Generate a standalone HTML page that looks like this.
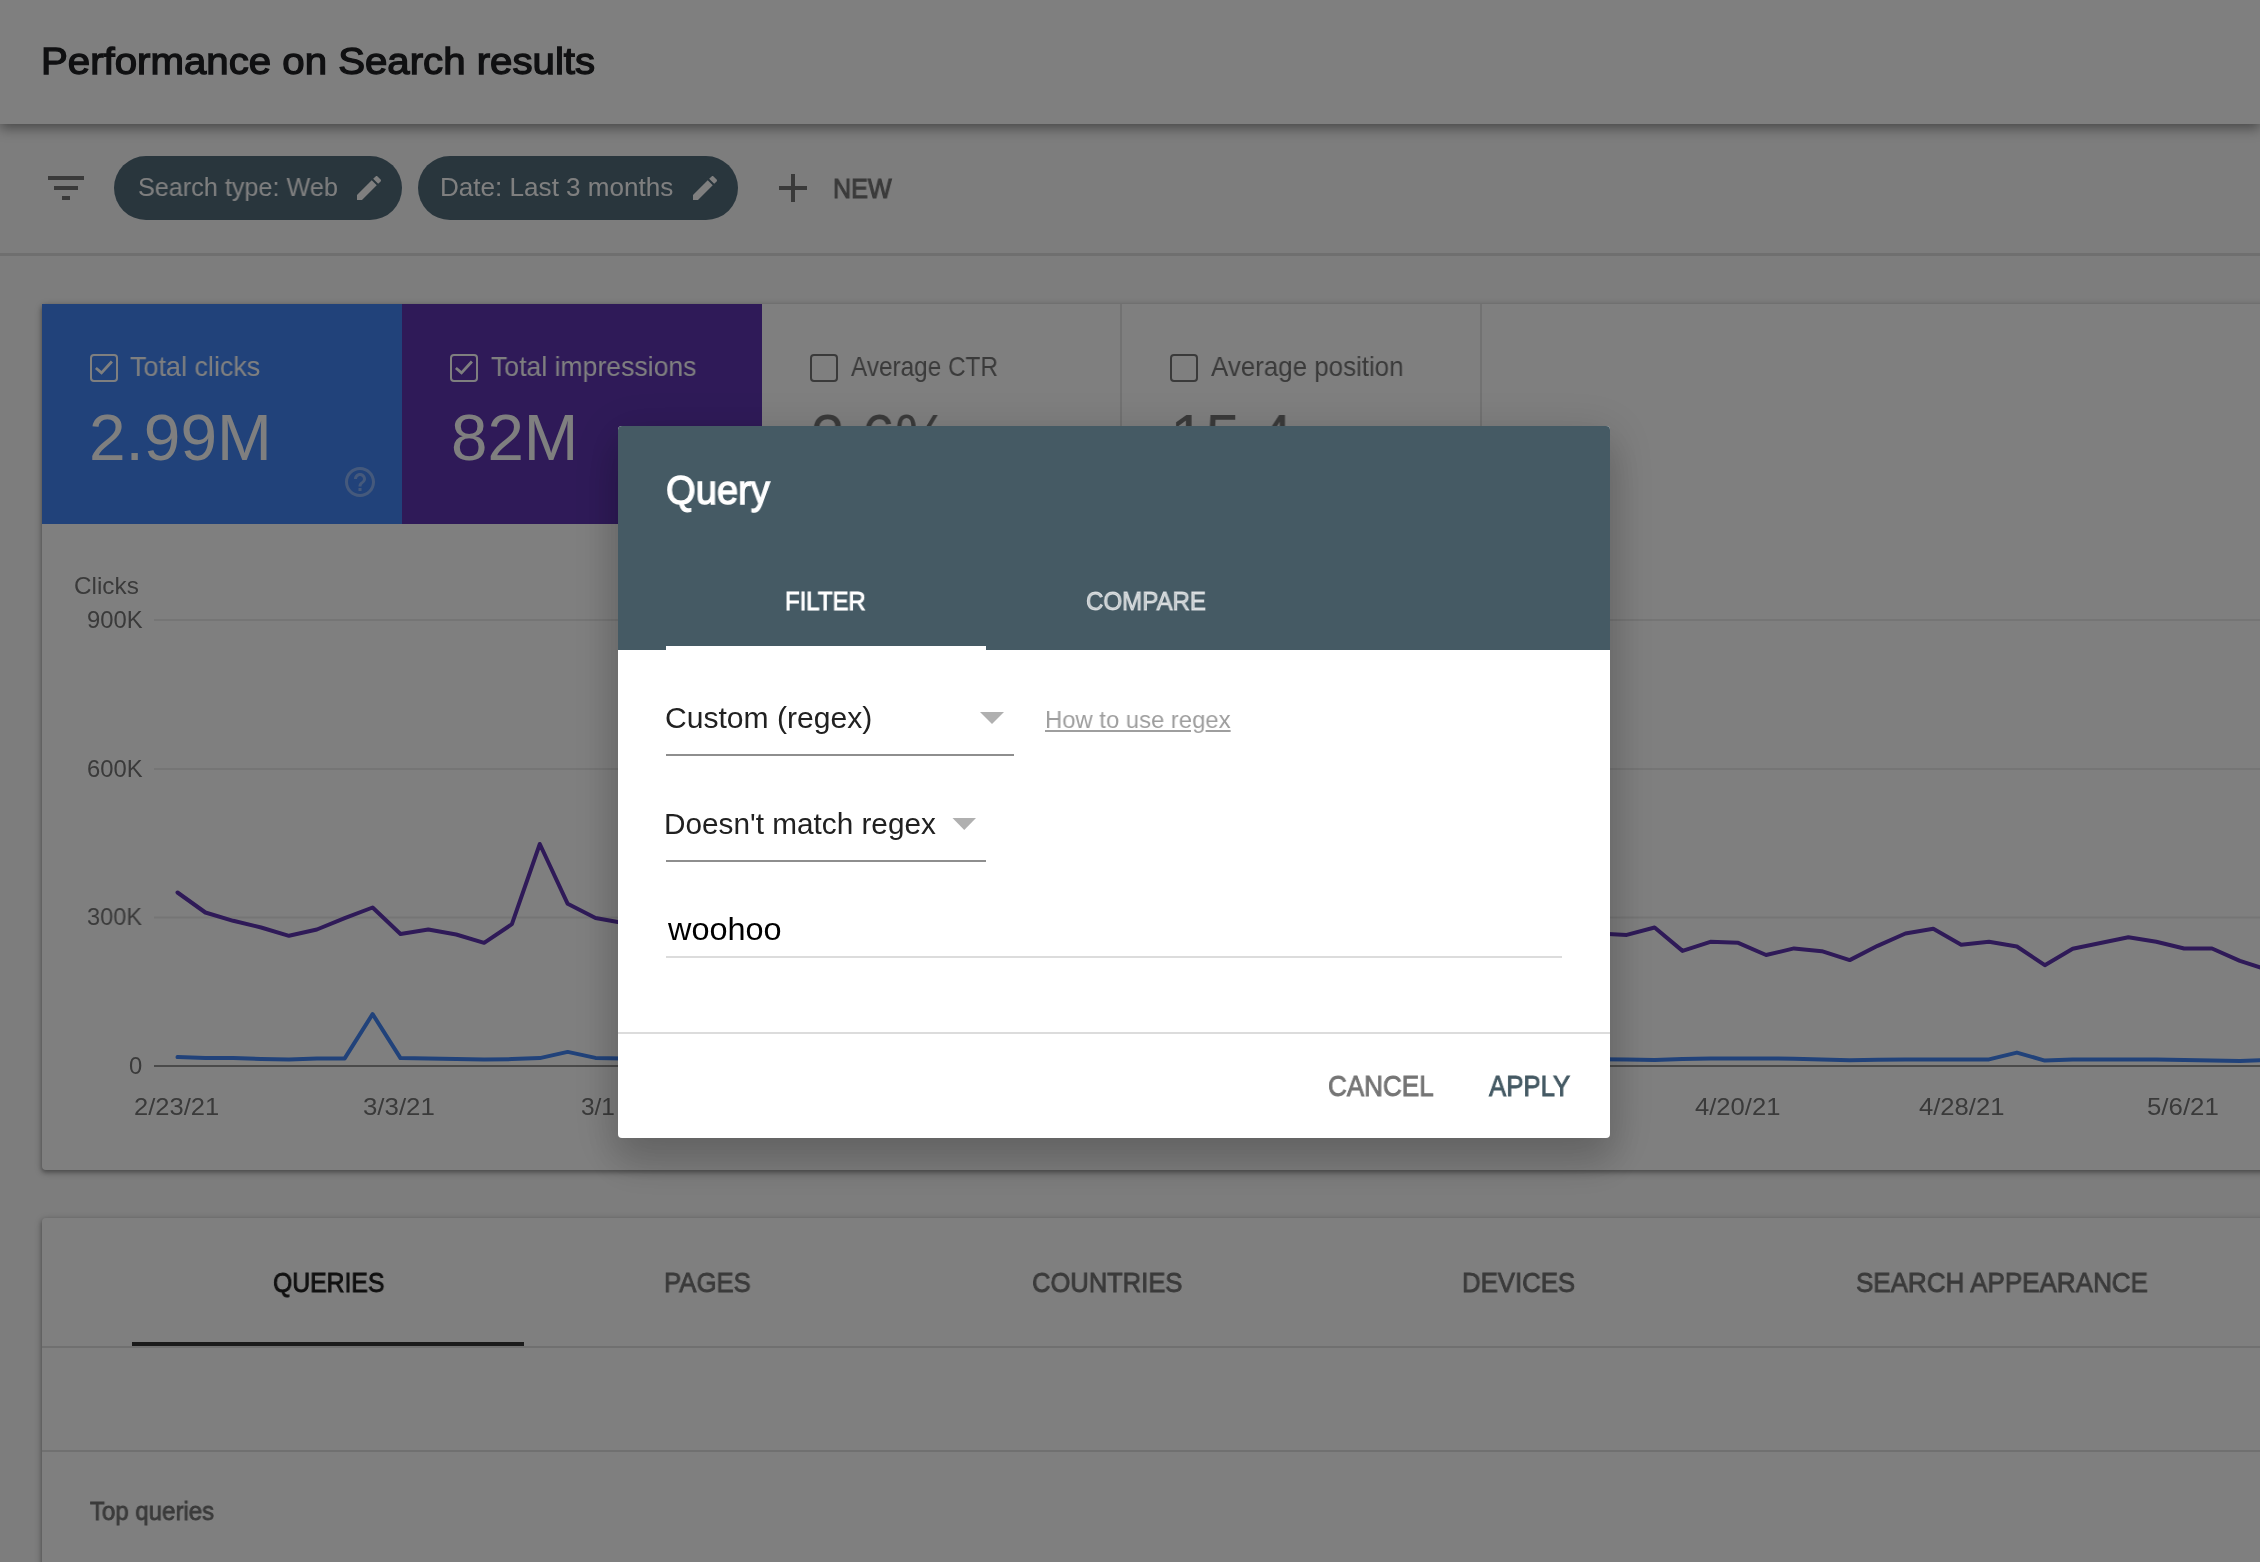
<!DOCTYPE html>
<html lang="en">
<head>
<meta charset="utf-8">
<title>Performance on Search results</title>
<style>
*{box-sizing:border-box;margin:0;padding:0}
html,body{width:2260px;height:1562px;overflow:hidden;background:#fafafa;font-family:"Liberation Sans",sans-serif}
#app{position:absolute;left:0;top:0;width:2260px;height:1562px;overflow:hidden;background:#fafafa}
.t{position:absolute;white-space:nowrap;line-height:1;transform-origin:0 0;font-weight:400;will-change:transform}
.abs{position:absolute}
header{position:absolute;left:0;top:0;width:2260px;height:124px;background:#fff;z-index:3;
  box-shadow:0 4px 12px rgba(0,0,0,.43)}
.filterbar{position:absolute;left:0;top:124px;width:2260px;height:132px;background:#fafafa;border-bottom:3px solid #dedede}
.chip{position:absolute;top:156px;height:64px;border-radius:32px;background:#526c7b}
.card{position:absolute;background:#fff;border-radius:4px;box-shadow:0 2px 4px 0 rgba(0,0,0,.3),0 2px 6px 2px rgba(0,0,0,.15)}
.metric{position:absolute;top:0;height:220px}
.cb{position:absolute;width:28px;height:28px;border:2px solid #fff;border-radius:4px}
.cb.off{border-color:#757575}
.vline{position:absolute;top:0;width:2px;height:220px;background:#e4e4e4}
.hline{position:absolute;left:0;height:2px;background:#e0e0e0}
.scrim{position:absolute;left:0;top:0;width:2260px;height:1562px;background:rgba(0,0,0,.5);z-index:10}
.dialog{position:absolute;left:618px;top:426px;width:992px;height:712px;background:#fff;border-radius:4px;z-index:20;overflow:hidden;
  box-shadow:0 24px 38px 3px rgba(0,0,0,.14),0 9px 46px 8px rgba(0,0,0,.12)}
.dlg-head{position:absolute;left:0;top:0;width:992px;height:224px;background:#455a64}
.ind{position:absolute;left:48px;top:220px;width:320px;height:4px;background:#fff}
.uline{position:absolute;height:2px;background:#8e8e8e}
#dlgtext{position:absolute;left:0;top:0;width:2260px;height:1562px;z-index:21;pointer-events:none}
</style>
</head>
<body>
<div id="app">
  <header>
    <span class="t" style="left:41.3px;top:42.8px;font-size:37.5px;color:#202124;transform:scaleX(1.072);-webkit-text-stroke:1.3px #202124;">Performance on Search results</span>
  </header>
  <div class="filterbar"></div>
  <svg class="abs" style="left:42px;top:164px" width="48" height="48" viewBox="0 0 24 24"><path fill="#757575" d="M10 18h4v-2h-4v2zM3 6v2h18V6H3zm3 7h12v-2H6v2z"/></svg>
  <div class="chip" style="left:114px;width:288px"></div>
  <span class="t" style="left:137.7px;top:174.8px;font-size:25.6px;color:#fff;transform:scaleX(0.985);">Search type: Web</span>
  <svg class="abs" style="left:352.6px;top:172px" width="32" height="32" viewBox="0 0 24 24"><path fill="#fff" d="M3 17.25V21h3.75L17.81 9.94l-3.75-3.75L3 17.25zM20.71 7.04c.39-.39.39-1.02 0-1.41l-2.34-2.34c-.39-.39-1.02-.39-1.41 0l-1.83 1.83 3.75 3.75 1.83-1.83z"/></svg>
  <div class="chip" style="left:418px;width:320px"></div>
  <span class="t" style="left:440.1px;top:174.8px;font-size:25.6px;color:#fff;transform:scaleX(1.019);">Date: Last 3 months</span>
  <svg class="abs" style="left:688.7px;top:172px" width="32" height="32" viewBox="0 0 24 24"><path fill="#fff" d="M3 17.25V21h3.75L17.81 9.94l-3.75-3.75L3 17.25zM20.71 7.04c.39-.39.39-1.02 0-1.41l-2.34-2.34c-.39-.39-1.02-.39-1.41 0l-1.83 1.83 3.75 3.75 1.83-1.83z"/></svg>
  <svg class="abs" style="left:769px;top:164px" width="48" height="48" viewBox="0 0 24 24"><path fill="#757575" d="M19 13h-6v6h-2v-6H5v-2h6V5h2v6h6v2z"/></svg>
  <span class="t" style="left:833px;top:174.5px;font-size:27.7px;color:#757575;transform:scaleX(0.907);-webkit-text-stroke:1.1px #757575;">NEW</span>

  <!-- chart card -->
  <div class="card" style="left:42px;top:304px;width:2300px;height:866px">
    <div class="metric" style="left:0;width:360px;background:#4285f4"></div>
    <div class="metric" style="left:360px;width:360px;background:#5e35b1"></div>
    <div class="vline" style="left:1078px"></div>
    <div class="vline" style="left:1438px"></div>
    <svg class="abs" style="left:0;top:0" width="2218" height="866" viewBox="0 0 2218 866">
      <g stroke="#ebebeb" stroke-width="2">
        <line x1="112" x2="2218" y1="316" y2="316"/>
        <line x1="112" x2="2218" y1="465" y2="465"/>
        <line x1="112" x2="2218" y1="613.5" y2="613.5"/>
      </g>
      <line x1="112" x2="2218" y1="762" y2="762" stroke="#949494" stroke-width="2"/>
      <path d="M135.5,588.5 L163.4,608.5 L191.2,616.8 L219.1,623.5 L247.0,631.8 L274.9,625.5 L302.7,614.2 L330.6,603.5 L358.5,630.0 L386.3,625.5 L414.2,630.5 L442.1,638.8 L469.9,620.2 L497.8,540.0 L525.7,599.8 L553.5,614.0 L581.4,619.0 L609.3,621.0 L637.2,627.0 L665.0,618.0 L692.9,636.0 L720.8,631.0 L748.6,624.0 L776.5,640.0 L804.4,646.0 L832.2,634.0 L860.1,626.0 L888.0,622.0 L915.9,630.0 L943.7,641.0 L971.6,648.0 L999.5,636.0 L1027.3,632.0 L1055.2,626.0 L1083.1,621.0 L1111.0,634.0 L1138.8,643.0 L1166.7,637.0 L1194.6,631.0 L1222.4,625.0 L1250.3,629.0 L1278.2,636.0 L1306.0,644.0 L1333.9,639.0 L1361.8,633.0 L1389.7,627.0 L1417.5,624.0 L1445.4,631.0 L1473.3,638.0 L1501.1,634.0 L1529.0,630.0 L1556.9,629.5 L1584.7,630.9 L1612.6,623.5 L1640.5,646.9 L1668.4,637.8 L1696.2,638.8 L1724.1,651.0 L1752.0,644.4 L1779.8,647.2 L1807.7,656.1 L1835.6,641.8 L1863.4,629.5 L1891.3,624.8 L1919.2,640.8 L1947.0,637.8 L1974.9,642.5 L2002.8,661.2 L2030.7,644.8 L2058.5,639.0 L2086.4,633.2 L2114.3,637.8 L2142.1,644.5 L2170.0,644.5 L2197.9,656.8 L2225.8,665.8" fill="none" stroke="#5e35b1" stroke-width="4" stroke-linejoin="round" stroke-linecap="round"/>
      <path d="M135.5,753.1 L163.4,753.9 L191.2,754.1 L219.1,754.9 L247.0,755.4 L274.9,754.4 L302.7,754.4 L330.6,710.1 L358.5,754.1 L386.3,754.4 L414.2,755.1 L442.1,755.6 L469.9,755.1 L497.8,754.1 L525.7,747.9 L553.5,753.9 L581.4,754.4 L609.3,754.6 L637.2,755.5 L665.0,754.6 L692.9,754.6 L720.8,755.5 L748.6,754.6 L776.5,754.6 L804.4,755.5 L832.2,754.6 L860.1,754.6 L888.0,755.5 L915.9,754.6 L943.7,754.6 L971.6,755.5 L999.5,754.6 L1027.3,754.6 L1055.2,755.5 L1083.1,754.6 L1111.0,754.6 L1138.8,755.5 L1166.7,754.6 L1194.6,754.6 L1222.4,755.5 L1250.3,754.6 L1278.2,754.6 L1306.0,755.5 L1333.9,754.6 L1361.8,754.6 L1389.7,755.5 L1417.5,754.6 L1445.4,754.6 L1473.3,755.5 L1501.1,754.6 L1529.0,754.6 L1556.9,755.2 L1584.7,755.4 L1612.6,756.0 L1640.5,754.9 L1668.4,754.4 L1696.2,754.4 L1724.1,754.4 L1752.0,754.8 L1779.8,755.4 L1807.7,756.2 L1835.6,755.8 L1863.4,755.4 L1891.3,755.4 L1919.2,755.4 L1947.0,755.4 L1974.9,748.6 L2002.8,756.6 L2030.7,755.4 L2058.5,755.4 L2086.4,755.4 L2114.3,755.4 L2142.1,755.9 L2170.0,756.4 L2197.9,756.9 L2225.8,755.9" fill="none" stroke="#4285f4" stroke-width="4" stroke-linejoin="round" stroke-linecap="round"/>
    </svg>
  </div>
  <!-- metric contents (page coords) -->
  <div class="cb" style="left:90px;top:354px"><svg width="24" height="24" viewBox="0 0 24 24" style="position:absolute;left:0;top:0"><path d="M3.9 12 L9.5 16.9 L19.9 5.5" fill="none" stroke="#fff" stroke-width="2.8"/></svg></div>
  <span class="t" style="left:129.9px;top:353.4px;font-size:27.6px;color:#fff;transform:scaleX(0.977);">Total clicks</span>
  <span class="t" style="left:88.5px;top:405.7px;font-size:64.1px;color:#fff;transform:scaleX(1.026);">2.99M</span>
  <svg class="abs" style="left:342px;top:464px;opacity:.38" width="36" height="36" viewBox="0 0 24 24"><path fill="#fff" d="M11 18h2v-2h-2v2zm1-16C6.48 2 2 6.48 2 12s4.48 10 10 10 10-4.48 10-10S17.52 2 12 2zm0 18c-4.41 0-8-3.59-8-8s3.59-8 8-8 8 3.59 8 8-3.59 8-8 8zm0-14c-2.21 0-4 1.79-4 4h2c0-1.1.9-2 2-2s2 .9 2 2c0 2-3 1.75-3 5h2c0-2.25 3-2.5 3-5 0-2.21-1.79-4-4-4z"/></svg>
  <div class="cb" style="left:450px;top:354px"><svg width="24" height="24" viewBox="0 0 24 24" style="position:absolute;left:0;top:0"><path d="M3.9 12 L9.5 16.9 L19.9 5.5" fill="none" stroke="#fff" stroke-width="2.8"/></svg></div>
  <span class="t" style="left:490.7px;top:353.4px;font-size:27.6px;color:#fff;transform:scaleX(0.964);">Total impressions</span>
  <span class="t" style="left:451.2px;top:405.7px;font-size:64.1px;color:#fff;transform:scaleX(1.021);">82M</span>
  <div class="cb off" style="left:810px;top:354px"></div>
  <span class="t" style="left:850.8px;top:353.4px;font-size:27.6px;color:#757575;transform:scaleX(0.882);">Average CTR</span>
  <span class="t" style="left:811px;top:405.7px;font-size:64.1px;color:#757575;transform:scaleX(0.943);">3.6%</span>
  <div class="cb off" style="left:1170px;top:354px"></div>
  <span class="t" style="left:1210.8px;top:353.4px;font-size:27.6px;color:#757575;transform:scaleX(0.939);">Average position</span>
  <span class="t" style="left:1169.5px;top:405.7px;font-size:64.1px;color:#757575;transform:scaleX(0.986);">15.4</span>

  <!-- chart labels -->
  <span class="t" style="left:73.6px;top:574.9px;font-size:23.6px;color:#757575;transform:scaleX(1.03);">Clicks</span>
  <span class="t" style="left:86.5px;top:608px;font-size:23.8px;color:#757575;transform:scaleX(0.996);">900K</span>
  <span class="t" style="left:86.5px;top:756.6px;font-size:23.8px;color:#757575;transform:scaleX(0.996);">600K</span>
  <span class="t" style="left:86.9px;top:905.2px;font-size:23.8px;color:#757575;transform:scaleX(0.989);">300K</span>
  <span class="t" style="left:128.5px;top:1053.9px;font-size:23.8px;color:#757575;">0</span>
  <span class="t" style="left:134.2px;top:1095.3px;font-size:23.9px;color:#757575;transform:scaleX(1.068);">2/23/21</span>
  <span class="t" style="left:363.2px;top:1095.3px;font-size:23.9px;color:#757575;transform:scaleX(1.081);">3/3/21</span>
  <span class="t" style="left:580.5px;top:1095.3px;font-size:23.9px;color:#757575;transform:scaleX(1.022);">3/1</span>
  <span class="t" style="left:1695.1px;top:1095.3px;font-size:23.9px;color:#757575;transform:scaleX(1.071);">4/20/21</span>
  <span class="t" style="left:1918.6px;top:1095.3px;font-size:23.9px;color:#757575;transform:scaleX(1.071);">4/28/21</span>
  <span class="t" style="left:2147.2px;top:1095.3px;font-size:23.9px;color:#757575;transform:scaleX(1.081);">5/6/21</span>

  <!-- table card -->
  <div class="card" style="left:42px;top:1218px;width:2300px;height:420px">
    <div class="hline" style="top:128px;width:2300px"></div>
    <div class="abs" style="left:90px;top:124px;width:392px;height:4px;background:#363636"></div>
    <div class="hline" style="top:232px;width:2300px"></div>
  </div>
  <span class="t" style="left:272.5px;top:1268.1px;font-size:28.3px;color:#212121;transform:scaleX(0.875);-webkit-text-stroke:0.9px #212121;">QUERIES</span>
  <span class="t" style="left:664.4px;top:1268.1px;font-size:28.3px;color:#757575;transform:scaleX(0.909);-webkit-text-stroke:0.9px #757575;">PAGES</span>
  <span class="t" style="left:1032.3px;top:1268.1px;font-size:28.3px;color:#757575;transform:scaleX(0.902);-webkit-text-stroke:0.9px #757575;">COUNTRIES</span>
  <span class="t" style="left:1462.4px;top:1268.1px;font-size:28.3px;color:#757575;transform:scaleX(0.911);-webkit-text-stroke:0.9px #757575;">DEVICES</span>
  <span class="t" style="left:1856.1px;top:1268.1px;font-size:28.3px;color:#757575;transform:scaleX(0.919);-webkit-text-stroke:0.9px #757575;">SEARCH APPEARANCE</span>
  <span class="t" style="left:90px;top:1499px;font-size:25.2px;color:#757575;transform:scaleX(0.954);-webkit-text-stroke:0.8px #757575;">Top queries</span>
</div>

<div class="scrim"></div>

<div class="dialog">
  <div class="dlg-head"></div>
  <div class="ind"></div>
  <div class="uline" style="left:48px;top:328px;width:348px"></div>
  <div class="uline" style="left:48px;top:434px;width:320px"></div>
  <div class="abs" style="left:48px;top:530px;width:896px;height:2px;background:#dcdcdc"></div>
  <div class="abs" style="left:0;top:606px;width:992px;height:2px;background:#dcdcdc"></div>
  <svg class="abs" style="left:0;top:0" width="992" height="712"><polygon points="362,286 386,286 374,298" fill="#b0b0b0"/><polygon points="334.5,392 358,392 346.25,404" fill="#b0b0b0"/></svg>
</div>
<div id="dlgtext">
  <span class="t" style="left:666.2px;top:469.9px;font-size:40.1px;color:#fff;transform:scaleX(0.952);-webkit-text-stroke:1.3px #fff;">Query</span>
  <span class="t" style="left:785.3px;top:589.1px;font-size:25.7px;color:#fff;transform:scaleX(0.932);-webkit-text-stroke:0.9px #fff;">FILTER</span>
  <span class="t" style="left:1086px;top:589.1px;font-size:25.7px;color:rgba(255,255,255,.68);transform:scaleX(0.938);-webkit-text-stroke:0.9px rgba(255,255,255,.68);">COMPARE</span>
  <span class="t" style="left:665.3px;top:703.3px;font-size:29.4px;color:#212121;transform:scaleX(1.023);">Custom (regex)</span>
  <span class="t" style="left:1045px;top:708.3px;font-size:24.5px;color:#9e9e9e;transform:scaleX(0.973);text-decoration:underline;">How to use regex</span>
  <span class="t" style="left:664.4px;top:809.1px;font-size:29.4px;color:#212121;transform:scaleX(1.012);">Doesn't match regex</span>
  <span class="t" style="left:667.8px;top:913.9px;font-size:31.4px;color:#000;transform:scaleX(1.033);">woohoo</span>
  <span class="t" style="left:1328px;top:1072.1px;font-size:28.7px;color:#757575;transform:scaleX(0.908);-webkit-text-stroke:0.9px #757575;">CANCEL</span>
  <span class="t" style="left:1489.4px;top:1072.1px;font-size:28.7px;color:#455a64;transform:scaleX(0.898);-webkit-text-stroke:0.9px #455a64;">APPLY</span>
</div>
</body>
</html>
